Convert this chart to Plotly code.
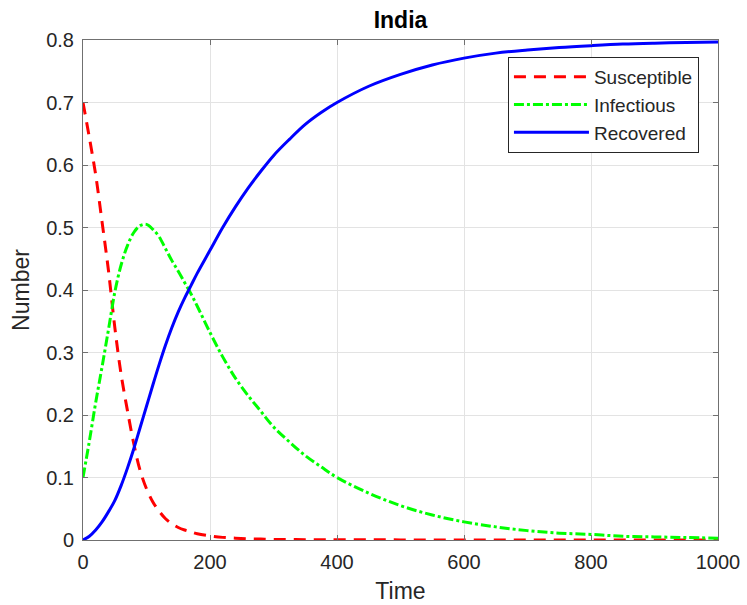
import plotly.graph_objects as go

time = [0, 10, 20, 30, 40, 50, 60, 70, 80, 90, 100, 110, 120, 130, 140, 150, 160, 170, 180,
        200, 220, 240, 260, 280, 300, 325, 350, 375, 400, 450, 500, 550, 600, 650, 700, 750, 800,
        850, 900, 950, 1000]

susceptible = [0.700, 0.644, 0.584, 0.509, 0.432, 0.341, 0.265, 0.207, 0.154, 0.111, 0.082,
               0.061, 0.046, 0.034, 0.026, 0.020, 0.016, 0.013, 0.010,
               0.0065, 0.0042, 0.003, 0.002, 0.0015, 0.001, 0.0008, 0.0006, 0.0005, 0.0004,
               0.0003, 0.0002, 0.0001, 0.0001, 0.0, 0.0, 0.0, 0.0, 0.0, 0.0, 0.0, 0.0]

infectious = [0.100, 0.158, 0.220, 0.277, 0.336, 0.396, 0.440, 0.471, 0.492, 0.503, 0.505,
              0.497, 0.485, 0.466, 0.447, 0.430, 0.412, 0.394, 0.374,
              0.332, 0.293, 0.259, 0.231, 0.206, 0.181, 0.157, 0.135, 0.117, 0.100, 0.075, 0.055,
              0.040, 0.029, 0.021, 0.015, 0.011, 0.009, 0.006, 0.005, 0.004, 0.003]

recovered = [0.000, 0.006, 0.016, 0.029, 0.045, 0.063, 0.087, 0.115, 0.146, 0.180, 0.214,
             0.248, 0.281, 0.312, 0.340, 0.365, 0.387, 0.407, 0.427,
             0.4635, 0.500, 0.533, 0.563, 0.590, 0.615, 0.641, 0.665, 0.684, 0.700, 0.726, 0.745,
             0.760, 0.771, 0.779, 0.784, 0.788, 0.791, 0.7935, 0.795, 0.796, 0.797]

x_ticks = [0, 200, 400, 600, 800, 1000]
y_ticks = [0, 0.1, 0.2, 0.3, 0.4, 0.5, 0.6, 0.7, 0.8]
y_tick_labels = ["0", "0.1", "0.2", "0.3", "0.4", "0.5", "0.6", "0.7", "0.8"]

FONT = "Liberation Sans, Arial, Helvetica, sans-serif"

fig = go.Figure()
fig.add_trace(go.Scatter(x=time, y=susceptible, mode="lines", name="Susceptible",
                         line=dict(color="#FF0000", width=3, dash="12px,8px", shape="spline")))
fig.add_trace(go.Scatter(x=time, y=infectious, mode="lines", name="Infectious",
                         line=dict(color="#00FF00", width=3, dash="10px,3px,3px,3px", shape="spline")))
fig.add_trace(go.Scatter(x=time, y=recovered, mode="lines", name="Recovered",
                         line=dict(color="#0000FF", width=3, shape="spline")))

axis_common = dict(
    showgrid=True, gridcolor="#E3E3E3", gridwidth=1,
    showline=True, linecolor="#707070", linewidth=1, mirror="ticks",
    ticks="inside", ticklen=5, tickcolor="#707070", tickwidth=1,
    zeroline=False, automargin=False,
    ticklabelstandoff=4,
    tickfont=dict(family=FONT, size=20, color="#262626"),
)

fig.update_layout(
    width=747, height=605,
    margin=dict(l=83, r=29, t=40, b=65),
    paper_bgcolor="white", plot_bgcolor="white",
    title=dict(text="<b>India</b>", x=(83 + 718) / 2 / 747, xanchor="center", y=0.967, yanchor="middle",
               font=dict(family=FONT, size=23, color="black")),
    xaxis=dict(range=[0, 1000], tickvals=x_ticks, ticktext=[str(v) for v in x_ticks],
               title=dict(text="Time", font=dict(family=FONT, size=23, color="#262626"), standoff=10),
               **axis_common),
    yaxis=dict(range=[0, 0.8], tickvals=y_ticks, ticktext=y_tick_labels,
               title=dict(text="Number", font=dict(family=FONT, size=23, color="#262626"), standoff=10),
               **axis_common),
    legend=dict(x=0.970, y=0.966, xanchor="right", yanchor="top",
                bgcolor="white", bordercolor="#262626", borderwidth=1,
                font=dict(family=FONT, size=19, color="#262626"),
                itemwidth=75, tracegroupgap=0),
    showlegend=True,
)

fig.write_html("out.html")
